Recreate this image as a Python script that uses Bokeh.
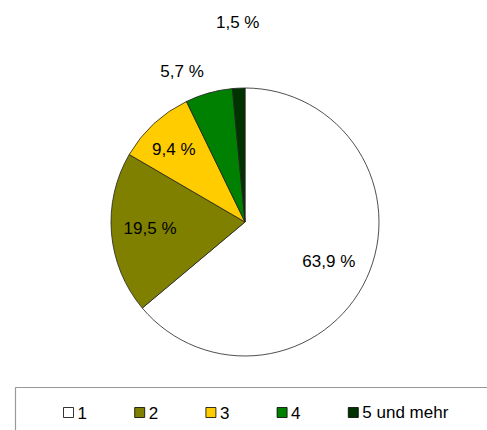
import math
from bokeh.plotting import figure
from bokeh.models import Range1d
from bokeh.core.properties import value
from bokeh.embed import file_html
from bokeh.resources import INLINE

categories = ["1", "2", "3", "4", "5 und mehr"]
shares = [63.9, 19.5, 9.4, 5.7, 1.5]
labels = ["63,9 %", "19,5 %", "9,4 %", "5,7 %", "1,5 %"]
colors = ["#FFFFFF", "#808000", "#FFCC00", "#008000", "#003300"]

# layout (image pixel coordinates, y measured downward from top)
FW, FH = 487, 430
CX, CY, R = 244.5, 221.5, 134
label_r = [0.69, 0.71, 0.76, 1.22, 1.49]
label_da = [0, -1, 1.5, 7, -0.6]
FONT = "Liberation Sans"

p = figure(width=FW, height=FH, output_backend="svg", toolbar_location=None,
           x_range=Range1d(0, FW), y_range=Range1d(0, FH),
           min_border=0, outline_line_color=None)
p.axis.visible = False
p.grid.visible = False


def Y(img_y):
    return FH - img_y


total = sum(shares)
cum = 0.0
starts, ends, lx, ly = [], [], [], []
for i, s in enumerate(shares):
    a0 = math.pi / 2 - 2 * math.pi * cum / total
    cum += s
    a1 = math.pi / 2 - 2 * math.pi * cum / total
    starts.append(a0)
    ends.append(a1)
    mid = (a0 + a1) / 2 + math.radians(label_da[i])
    lx.append(CX + label_r[i] * R * math.cos(mid))
    ly.append(Y(CY) + label_r[i] * R * math.sin(mid))

p.wedge(x=CX, y=Y(CY), radius=R, start_angle=starts, end_angle=ends,
        direction="clock", fill_color=colors, line_color="#222222", line_width=0.8)

p.text(x=lx, y=ly, text=labels, text_align="center", text_baseline="middle",
       text_font=value(FONT), text_font_size="17px", text_color="#000000")

# legend box
p.quad(left=[15], right=[FW + 20], top=[Y(387)], bottom=[-20], fill_color=None,
       line_color="#999999", line_width=1.2)
leg_x0, leg_dx, leg_y = 68, 71.2, Y(412)
sx = [leg_x0 + i * leg_dx for i in range(len(categories))]
p.rect(x=sx, y=leg_y, width=10, height=10, fill_color=colors,
       line_color="#000000", line_width=0.8)
p.text(x=[v + 9 for v in sx], y=leg_y, text=categories, text_align="left",
       text_baseline="middle", text_font=value(FONT), text_font_size="17px",
       text_color="#000000")

open("out.html", "w").write(file_html(p, INLINE))
